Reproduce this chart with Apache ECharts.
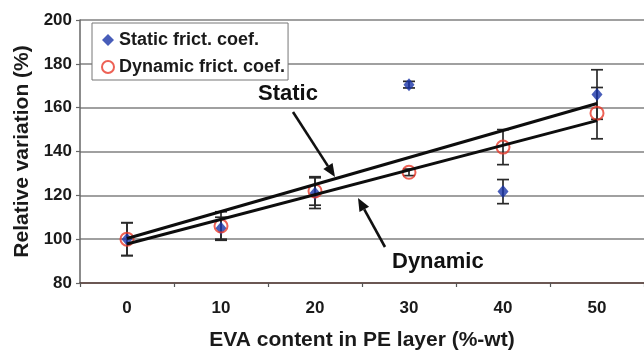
<!DOCTYPE html>
<html>
<head>
<meta charset="utf-8">
<script src="https://cdn.jsdelivr.net/npm/echarts@6/dist/echarts.min.js"></script>
<style>
  html, body { margin: 0; padding: 0; background: #fff; }
  #chart { width: 644px; height: 356px; }
</style>
</head>
<body>
<div id="chart"></div>
<script>
// EVA content in the PE layer (%-wt)
const evaContent = ['0', '10', '20', '30', '40', '50'];
// Relative variation of the friction coefficients (%)
const staticCoef = [100, 105, 121, 170.5, 121.7, 166];
const staticErr = [7.5, 5, 7, 1.5, 5.5, 11.3];
const dynamicCoef = [100, 106, 122, 130.5, 142, 157.5];
const dynamicErr = [7.5, 6.5, 6.5, 1.5, 8, 11.7];
// Linear trend lines, value at 0 and 50 %-wt
const trendEnds = ['0', '50'];
const staticTrend = [100.3, 161.9];
const dynamicTrend = [97.8, 154.1];
// Y axis ticks
const yTicks = [80, 100, 120, 140, 160, 180, 200];

const FONT = '"Liberation Sans", Arial, sans-serif';
const chart = echarts.init(document.getElementById('chart'));

function errorBars(values, errs) {
  return values.map((v, i) => [i, v - errs[i], v + errs[i]]);
}

function renderErr(params, api) {
  const lo = api.coord([api.value(0), api.value(1)]);
  const hi = api.coord([api.value(0), api.value(2)]);
  const w = 6;
  const style = { stroke: '#2a2a2a', lineWidth: 1.7 };
  return {
    type: 'group',
    children: [
      { type: 'line', shape: { x1: lo[0], y1: lo[1], x2: hi[0], y2: hi[1] }, style },
      { type: 'line', shape: { x1: lo[0] - w, y1: lo[1], x2: lo[0] + w, y2: lo[1] }, style },
      { type: 'line', shape: { x1: hi[0] - w, y1: hi[1], x2: hi[0] + w, y2: hi[1] }, style }
    ]
  };
}

// Annotation arrow: shaft plus filled head pointing at (x2, y2)
function arrow(x1, y1, x2, y2) {
  const ang = Math.atan2(y2 - y1, x2 - x1);
  const len = 13, half = 5.5;
  const bx = x2 - len * Math.cos(ang), by = y2 - len * Math.sin(ang);
  const px = -Math.sin(ang) * half, py = Math.cos(ang) * half;
  return [
    { type: 'line', shape: { x1, y1, x2: bx, y2: by }, style: { stroke: '#111', lineWidth: 2.6 }, z: 20 },
    { type: 'polygon', shape: { points: [[x2, y2], [bx + px, by + py], [bx - px, by - py]] }, style: { fill: '#111' }, z: 20 }
  ];
}

const option = {
  animation: false,
  backgroundColor: '#fff',
  textStyle: { fontFamily: FONT },
  grid: { left: 80, top: 20, width: 567, height: 266 },
  legend: {
    orient: 'vertical',
    left: 92, top: 23,
    padding: [8, 3, 4, 9],
    itemGap: 9,
    itemWidth: 12, itemHeight: 12,
    backgroundColor: '#fff',
    borderColor: '#777', borderWidth: 1,
    textStyle: { fontFamily: FONT, fontSize: 18, lineHeight: 18, fontWeight: 'bold', color: '#1a1a1a' },
    data: [
      { name: 'Static frict. coef.', icon: 'diamond', itemStyle: { color: '#1a35a8' } },
      { name: 'Dynamic frict. coef.', icon: 'circle',
        itemStyle: { color: '#fff', borderColor: '#e8392a', borderWidth: 2 } }
    ]
  },
  xAxis: {
    type: 'category',
    data: evaContent,
    boundaryGap: true,
    name: 'EVA content in PE layer (%-wt)',
    nameLocation: 'middle',
    nameGap: 47,
    nameTextStyle: { fontFamily: FONT, fontSize: 21, fontWeight: 'bold', color: '#1a1a1a' },
    axisLine: { lineStyle: { color: '#5a3f3a', width: 1.5 } },
    axisTick: { show: true, length: 4, lineStyle: { color: '#555', width: 1.2 } },
    axisLabel: { fontFamily: FONT, fontSize: 17, fontWeight: 'bold', color: '#1a1a1a', margin: 17 },
    splitLine: { show: false }
  },
  yAxis: {
    type: 'value',
    min: yTicks[0], max: yTicks[yTicks.length - 1], interval: 20,
    name: 'Relative variation (%)',
    nameLocation: 'middle',
    nameGap: 47,
    nameTextStyle: { fontFamily: FONT, fontSize: 21, fontWeight: 'bold', color: '#1a1a1a' },
    axisLine: { show: true, lineStyle: { color: '#666', width: 1.5 } },
    axisTick: { show: true, length: 4, lineStyle: { color: '#666', width: 1.2 } },
    axisLabel: { fontFamily: FONT, fontSize: 17, fontWeight: 'bold', color: '#1a1a1a', margin: 8 },
    splitLine: { lineStyle: { color: '#808080', width: 1.5 } }
  },
  series: [
    {
      name: 'Static err', type: 'custom', renderItem: renderErr,
      data: errorBars(staticCoef, staticErr), z: 3, silent: true
    },
    {
      name: 'Dynamic err', type: 'custom', renderItem: renderErr,
      data: errorBars(dynamicCoef, dynamicErr), z: 3, silent: true
    },
    {
      name: 'Static trend', type: 'line', data: trendEnds.map((c, i) => [c, staticTrend[i]]),
      symbol: 'none', lineStyle: { color: '#0d0d0d', width: 3 }, z: 6, silent: true
    },
    {
      name: 'Dynamic trend', type: 'line', data: trendEnds.map((c, i) => [c, dynamicTrend[i]]),
      symbol: 'none', lineStyle: { color: '#0d0d0d', width: 3 }, z: 6, silent: true
    },
    {
      name: 'Dynamic frict. coef.', type: 'scatter', data: dynamicCoef,
      symbol: 'circle', symbolSize: 13,
      itemStyle: { color: 'rgba(255,255,255,0)', borderColor: '#e8392a', borderWidth: 2 }, z: 5
    },
    {
      name: 'Static frict. coef.', type: 'scatter', data: staticCoef,
      symbol: 'diamond', symbolSize: [11, 13],
      itemStyle: { color: '#1a35a8' }, z: 4
    }
  ],
  graphic: [
    { type: 'text', left: 258, top: 83, z: 20,
      style: { text: 'Static', font: 'bold 22px ' + FONT, fill: '#111' } },
    { type: 'text', left: 392, top: 251, z: 20,
      style: { text: 'Dynamic', font: 'bold 22px ' + FONT, fill: '#111' } },
    ...arrow(293, 112, 335, 177),
    ...arrow(385, 247, 358, 198)
  ]
};

chart.setOption(option);
</script>
</body>
</html>
